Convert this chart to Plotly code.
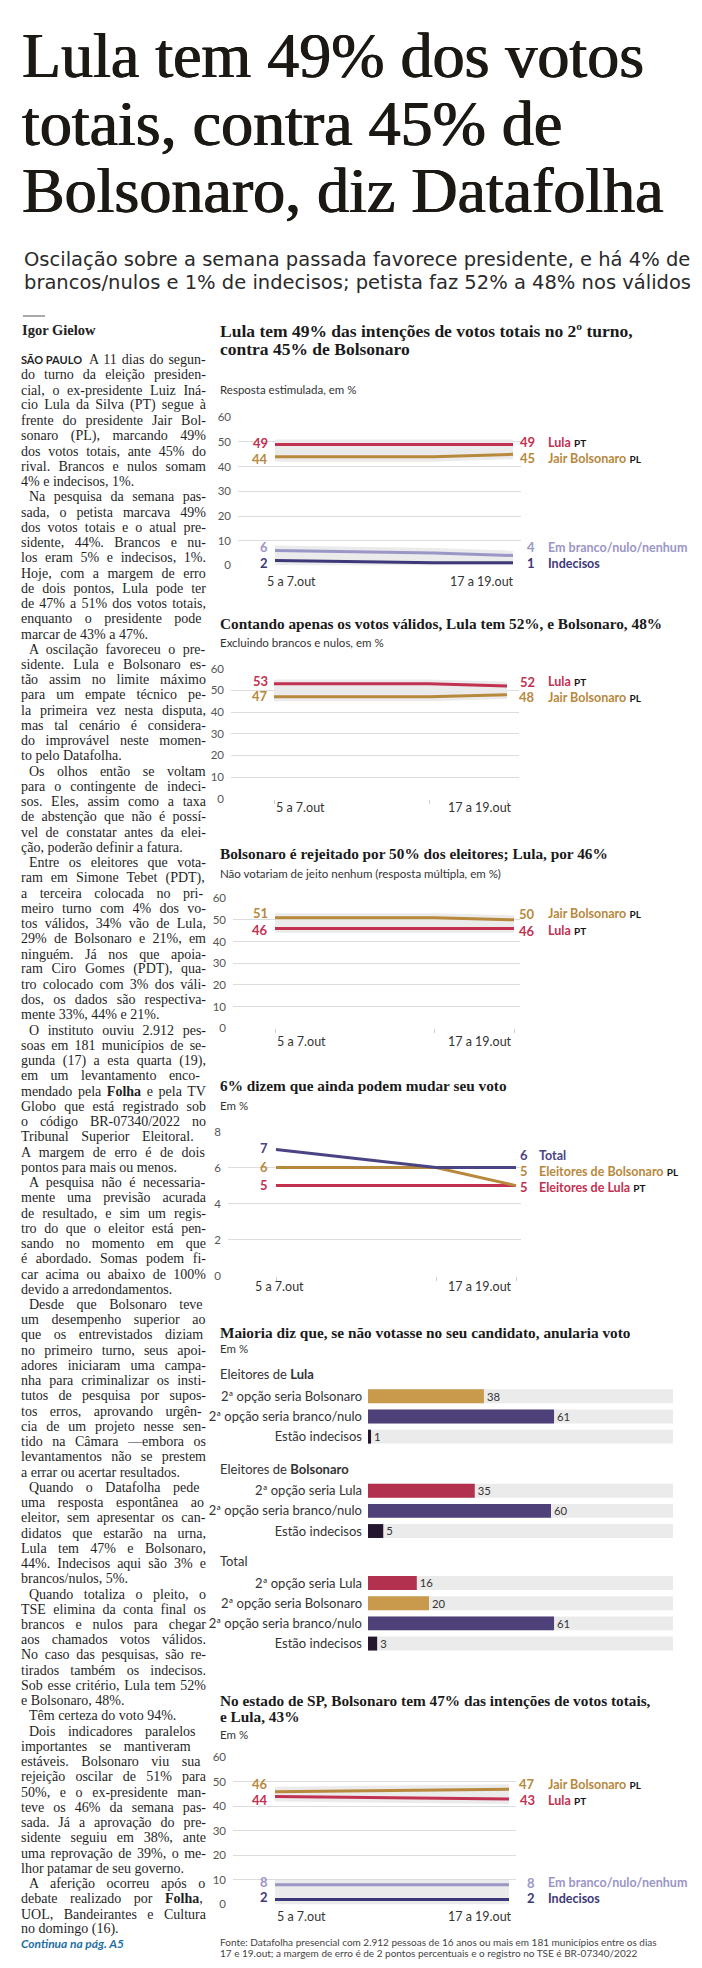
import re
import unicodedata
import plotly.graph_objects as go

W, H = 702, 1968

# ---------------------------------------------------------------- data
poll_labels = ["5 a 7.out", "13 e 14.out", "17 a 19.out"]
poll_day = [6, 14, 18]          # October day used as x position of each poll
margem_erro = 2

# 1 - total votes (Brazil)
c1_lula = [49, 49, 49]
c1_bolso = [44, 44, 45]
c1_branco = [6, 5, 4]
c1_indec = [2, 1, 1]

# 2 - valid votes
c2_lula = [53, 53, 52]
c2_bolso = [47, 47, 48]

# 3 - rejection
c3_bolso = [51, 51, 50]
c3_lula = [46, 46, 46]

# 4 - may still change vote
c4_total = [7, 6, 6]
c4_bolso = [6, 6, 5]
c4_lula = [5, 5, 5]

# 5 - second option
lula_voters_cats = ["2ª opção seria Bolsonaro", "2ª opção seria branco/nulo", "Estão indecisos"]
lula_voters_vals = [38, 61, 1]
bolso_voters_cats = ["2ª opção seria Lula", "2ª opção seria branco/nulo", "Estão indecisos"]
bolso_voters_vals = [35, 60, 5]
total_cats = ["2ª opção seria Lula", "2ª opção seria Bolsonaro", "2ª opção seria branco/nulo", "Estão indecisos"]
total_vals = [16, 20, 61, 3]

# 6 - São Paulo state
sp_days = [6, 18]
sp_bolso = [46, 47]
sp_lula = [44, 43]
sp_branco = [8, 8]
sp_indec = [2, 2]

pct_ticks = [0, 10, 20, 30, 40, 50, 60]
c4_ticks = [0, 2, 4, 6, 8]

# ---------------------------------------------------------------- styles
RED = "#c23150"
GOLD = "#b8883c"
LAV = "#9a96c6"
INDIGO = "#3d3878"
NAVY = "#4a4384"
BAR_GOLD = "#c99a4b"
BAR_PURPLE = "#4e4079"
BAR_DARK = "#25162f"
BAR_RED = "#b1314f"
BAND = "#ebebeb"
INK = "#1c1813"
TXT = "#222222"
SANS = "Lato"
SERIF = "Liberation Serif"

fig = go.Figure()
annotations = []
shapes = []
layout = {}


def px(x):
    return x / W


def py(y):
    return 1 - y / H


def note(x, y, text, size, color=TXT, family=SANS, xanchor="left", shadow=None, **kw):
    font = dict(family=family, size=size, color=color)
    if shadow:
        font["shadow"] = shadow
    d = dict(x=px(x), y=py(y), xref="paper", yref="paper", text=text,
             showarrow=False, xanchor=xanchor, yanchor="middle",
             font=font, borderpad=0)
    d.update(kw)
    annotations.append(d)


# ---------------------------------------------------------------- headline + deck
head_lines = ["Lula tem 49% dos votos", "totais, contra 45% de", "Bolsonaro, diz Datafolha"]
for i, t in enumerate(head_lines):
    note(13, 41 + i * 68, t, 64, INK, SERIF,
         shadow=f"0.6px 0px 0px {INK}, -0.6px 0px 0px {INK}")
deck_lines = ["Oscilação sobre a semana passada favorece presidente, e há 4% de",
              "brancos/nulos e 1% de indecisos; petista faz 52% a 48% nos válidos"]
for i, t in enumerate(deck_lines):
    note(15, 246 + i * 23, t, 19.5, "#2a2a2a", "DejaVu Sans")

# ---------------------------------------------------------------- left text column
shapes.append(dict(type="line", xref="paper", yref="paper", x0=px(15), x1=px(37),
                   y0=py(303), y1=py(303), line=dict(color="#555", width=1)))
note(13, 317, "<b>Igor Gielow</b>", 14.5, "#222", SERIF)

paragraphs = [
    ["A 11 dias do segun-", "do turno da eleição presiden-", "cial, o ex-presidente Luiz Iná-",
     "cio Lula da Silva (PT) segue à", "frente do presidente Jair Bol-", "sonaro (PL), marcando 49%",
     "dos votos totais, ante 45% do", "rival. Brancos e nulos somam", "4% e indecisos, 1%."],
    ["Na pesquisa da semana pas-", "sada, o petista marcava 49%", "dos votos totais e o atual pre-",
     "sidente, 44%. Brancos e nu-", "los eram 5% e indecisos, 1%.", "Hoje, com a margem de erro",
     "de dois pontos, Lula pode ter", "de 47% a 51% dos votos totais,", "enquanto o presidente pode",
     "marcar de 43% a 47%."],
    ["A oscilação favoreceu o pre-", "sidente. Lula e Bolsonaro es-", "tão assim no limite máximo",
     "para um empate técnico pe-", "la primeira vez nesta disputa,", "mas tal cenário é considera-",
     "do improvável neste momen-", "to pelo Datafolha."],
    ["Os olhos então se voltam", "para o contingente de indeci-", "sos. Eles, assim como a taxa",
     "de abstenção que não é possí-", "vel de constatar antes da elei-", "ção, poderão definir a fatura."],
    ["Entre os eleitores que vota-", "ram em Simone Tebet (PDT),", "a terceira colocada no pri-",
     "meiro turno com 4% dos vo-", "tos válidos, 34% vão de Lula,", "29% de Bolsonaro e 21%, em",
     "ninguém. Já nos que apoia-", "ram Ciro Gomes (PDT), qua-", "tro colocado com 3% dos váli-",
     "dos, os dados são respectiva-", "mente 33%, 44% e 21%."],
    ["O instituto ouviu 2.912 pes-", "soas em 181 municípios de se-", "gunda (17) a esta quarta (19),",
     "em um levantamento enco-", "mendado pela <b>Folha</b> e pela TV", "Globo que está registrado sob",
     "o código BR-07340/2022 no", "Tribunal Superior Eleitoral.", "A margem de erro é de dois",
     "pontos para mais ou menos."],
    ["A pesquisa não é necessaria-", "mente uma previsão acurada", "de resultado, e sim um regis-",
     "tro do que o eleitor está pen-", "sando no momento em que", "é abordado. Somas podem fi-",
     "car acima ou abaixo de 100%", "devido a arredondamentos."],
    ["Desde que Bolsonaro teve", "um desempenho superior ao", "que os entrevistados diziam",
     "no primeiro turno, seus apoi-", "adores iniciaram uma campa-", "nha para criminalizar os insti-",
     "tutos de pesquisa por supos-", "tos erros, aprovando urgên-", "cia de um projeto nesse sen-",
     "tido na Câmara —embora os", "levantamentos não se prestem", "a errar ou acertar resultados."],
    ["Quando o Datafolha pede", "uma resposta espontânea ao", "eleitor, sem apresentar os can-",
     "didatos que estarão na urna,", "Lula tem 47% e Bolsonaro,", "44%. Indecisos aqui são 3% e",
     "brancos/nulos, 5%."],
    ["Quando totaliza o pleito, o", "TSE elimina da conta final os", "brancos e nulos para chegar",
     "aos chamados votos válidos.", "No caso das pesquisas, são re-", "tirados também os indecisos.",
     "Sob esse critério, Lula tem 52%", "e Bolsonaro, 48%."],
    ["Têm certeza do voto 94%."],
    ["Dois indicadores paralelos", "importantes se mantiveram", "estáveis. Bolsonaro viu sua",
     "rejeição oscilar de 51% para", "50%, e o ex-presidente man-", "teve os 46% da semana pas-",
     "sada. Já a aprovação do pre-", "sidente seguiu em 38%, ante", "uma reprovação de 39%, o me-",
     "lhor patamar de seu governo."],
    ["A aferição ocorreu após o", "debate realizado por <b>Folha</b>,", "UOL, Bandeirantes e Cultura",
     "no domingo (16)."],
]

# Times-compatible advance widths (1/1000 em) used to justify the column
SERIF_W = {" ": 250, "!": 333, "%": 833, "(": 333, ")": 333, ",": 250, "-": 333, ".": 250,
           "/": 278, ":": 278, ";": 278, "—": 1000, "ª": 276, "º": 310}
SERIF_W.update({d: 500 for d in "0123456789"})
SERIF_W.update(dict(zip("ABCDEFGHIJKLMNOPQRSTUVWXYZ",
                        [722, 667, 667, 722, 611, 556, 722, 722, 333, 389, 722, 611, 889, 722,
                         722, 556, 722, 667, 556, 611, 722, 722, 944, 722, 722, 611])))
SERIF_W.update(dict(zip("abcdefghijklmnopqrstuvwxyz",
                        [444, 500, 444, 500, 444, 333, 500, 500, 278, 278, 500, 278, 778, 500,
                         500, 500, 500, 333, 389, 278, 500, 500, 722, 500, 500, 444])))


def serif_width(s, size):
    total, bold = 0.0, False
    for part in re.split(r"(<[^>]+>)", s):
        if part.startswith("<"):
            if part == "<b>":
                bold = True
            elif part == "</b>":
                bold = False
            continue
        for ch in part:
            base = unicodedata.normalize("NFD", ch)[0]
            w = SERIF_W.get(ch, SERIF_W.get(base, 500))
            total += w * (1.07 if bold else 1.0)
    return total * size / 1000


def justify(line, width, size):
    n = line.count(" ")
    if n == 0:
        return line
    ws = (width - serif_width(line, size)) / n
    ws = max(-1.0, min(ws, 9.0))
    return f"<span style='word-spacing:{ws:.2f}px'>{line}</span>"


BODY_SIZE = 14
COL_L, COL_R, INDENT = 12, 197, 8
line_y0, line_step = 347, 15.34
k = 0
for p_i, para in enumerate(paragraphs):
    for l_i, line in enumerate(para):
        last = l_i == len(para) - 1
        x = COL_L + (INDENT if (l_i == 0 and p_i > 0) else 0)
        if p_i == 0 and l_i == 0:
            lead = 60 + 2 * 0.25 * BODY_SIZE
            body = justify(line, COL_R - COL_L - lead, BODY_SIZE)
            txt = ("<span style='font-family:Lato;font-weight:bold;font-size:11px'>SÃO PAULO</span>"
                   "\u00a0\u00a0" + body)
        else:
            txt = line if last else justify(line, COL_R - x, BODY_SIZE)
        note(x, line_y0 + k * line_step, txt, BODY_SIZE, "#1f1f1f", SERIF)
        k += 1
note(12, line_y0 + k * line_step - 1, "<b><i>Continua na pág. A5</i></b>", 12, "#1f6fa6", SANS)

# ---------------------------------------------------------------- line charts helpers
charts = {}


def line_chart(i, grid_x0, grid_x1, line_x0, line_x1, ytop, ybot, yticks):
    s = (line_x1 - line_x0) / (poll_day[-1] - poll_day[0])
    xr = [poll_day[0] - (line_x0 - grid_x0) / s, poll_day[-1] + (grid_x1 - line_x1) / s]
    charts[i] = dict(line_x0=line_x0, line_x1=line_x1, ytop=ytop, ybot=ybot,
                     y0=yticks[0], y1=yticks[-1])
    layout[f"xaxis{i}"] = dict(domain=[px(grid_x0), px(grid_x1)], range=xr, anchor=f"y{i}",
                               showgrid=False, zeroline=False, showline=False,
                               showticklabels=False, tickvals=poll_day,
                               ticks="outside" if i in (2, 3, 4) else "", ticklen=4,
                               tickcolor="#cfcfcf", fixedrange=True)
    layout[f"yaxis{i}"] = dict(domain=[py(ybot), py(ytop)], range=[yticks[0], yticks[-1]],
                               anchor=f"x{i}", tickvals=yticks, showgrid=True,
                               gridcolor="#dcdcdc", gridwidth=1, zeroline=False,
                               showline=False, ticks="", ticklabelstandoff=6,
                               tickfont=dict(family=SANS, size=11.5, color="#555"),
                               fixedrange=True)


def band(i, xs, groups):
    upper = [max(v) + margem_erro for v in zip(*groups)]
    lower = [min(v) - margem_erro for v in zip(*groups)]
    fig.add_trace(go.Scatter(x=list(xs) + list(xs)[::-1], y=upper + lower[::-1], fill="toself",
                             fillcolor=BAND, line=dict(width=0), mode="lines",
                             hoverinfo="skip", showlegend=False, xaxis=f"x{i}", yaxis=f"y{i}"))


def series(i, xs, ys, color):
    fig.add_trace(go.Scatter(x=xs, y=ys, mode="lines", line=dict(color=color, width=3),
                             hoverinfo="skip", showlegend=False, xaxis=f"x{i}", yaxis=f"y{i}"))


def end_labels(i, xs, ys, color, name, party, left_px, right_px, num_right=528, name_left=539):
    c = charts[i]

    def shift(v, target):
        vpx = c["ybot"] - (v - c["y0"]) / (c["y1"] - c["y0"]) * (c["ybot"] - c["ytop"])
        return vpx - target

    common = dict(xref=f"x{i}", yref=f"y{i}", showarrow=False, yanchor="middle", borderpad=0)
    annotations.append(dict(x=xs[0], y=ys[0], text=f"<b>{ys[0]}</b>", xanchor="right",
                            xshift=-(c["line_x0"] - 261), yshift=shift(ys[0], left_px),
                            font=dict(family=SANS, size=13, color=color), **common))
    annotations.append(dict(x=xs[-1], y=ys[-1], text=f"<b>{ys[-1]}</b>", xanchor="right",
                            xshift=num_right - c["line_x1"], yshift=shift(ys[-1], right_px),
                            font=dict(family=SANS, size=13, color=color), **common))
    lab = f"<b>{name}</b>"
    if party:
        lab += f" <b><span style='color:#151515;font-size:10px'>{party}</span></b>"
    annotations.append(dict(x=xs[-1], y=ys[-1], text=lab, xanchor="left",
                            xshift=name_left - c["line_x1"], yshift=shift(ys[-1], right_px),
                            font=dict(family=SANS, size=12.5, color=color), **common))


def x_labels(y, left_x, left_anchor, right_x):
    note(left_x, y, poll_labels[0], 12.5, "#333", SANS, xanchor=left_anchor)
    note(right_x, y, poll_labels[-1], 12.5, "#333", SANS, xanchor="right")


def title(y, lines, sub=None, sub_y=None, size=15.3, step=17):
    for j, t in enumerate(lines):
        note(211, y + j * step, f"<b>{t}</b>", size, "#1a1a1a", SERIF)
    if sub:
        note(211, sub_y, sub, 11.5, "#333", SANS)


# ---------------------------------------------------------------- chart 1
title(318, ["Lula tem 49% das intenções de votos totais no 2º turno,",
            "contra 45% de Bolsonaro"], "Resposta estimulada, em %", 377, size=17.5, step=18.5)
line_chart(1, 230, 513, 267, 505, 405, 554, pct_ticks)
band(1, poll_day, [c1_lula, c1_bolso])
band(1, poll_day, [c1_branco, c1_indec])
series(1, poll_day, c1_branco, LAV)
series(1, poll_day, c1_indec, INDIGO)
series(1, poll_day, c1_bolso, GOLD)
series(1, poll_day, c1_lula, RED)
end_labels(1, poll_day, c1_lula, RED, "Lula", "PT", 431, 430)
end_labels(1, poll_day, c1_bolso, GOLD, "Jair Bolsonaro", "PL", 447, 446)
end_labels(1, poll_day, c1_branco, LAV, "Em branco/nulo/nenhum", "", 536, 536)
end_labels(1, poll_day, c1_indec, INDIGO, "Indecisos", "", 552, 552)
x_labels(570, 258, "left", 507)

# ---------------------------------------------------------------- chart 2
title(613, ["Contando apenas os votos válidos, Lula tem 52%, e Bolsonaro, 48%"],
      "Excluindo brancos e nulos, em %", 632)
line_chart(2, 223, 511, 266, 499, 658, 789, pct_ticks)
band(2, poll_day, [c2_lula, c2_bolso])
series(2, poll_day, c2_bolso, GOLD)
series(2, poll_day, c2_lula, RED)
end_labels(2, poll_day, c2_lula, RED, "Lula", "PT", 670, 671)
end_labels(2, poll_day, c2_bolso, GOLD, "Jair Bolsonaro", "PL", 686, 687)
x_labels(798, 267, "left", 505)

# ---------------------------------------------------------------- chart 3
title(844, ["Bolsonaro é rejeitado por 50% dos eleitores; Lula, por 46%"],
      "Não votariam de jeito nenhum (resposta múltipla, em %)", 864)
line_chart(3, 225, 512, 267, 506, 889, 1020, pct_ticks)
band(3, poll_day, [c3_bolso, c3_lula])
series(3, poll_day, c3_lula, RED)
series(3, poll_day, c3_bolso, GOLD)
end_labels(3, poll_day, c3_bolso, GOLD, "Jair Bolsonaro", "PL", 904, 905)
end_labels(3, poll_day, c3_lula, RED, "Lula", "PT", 921, 922)
x_labels(1033, 268, "left", 505)

# ---------------------------------------------------------------- chart 4
title(1078, ["6% dizem que ainda podem mudar seu voto"], "Em %", 1098)
line_chart(4, 220, 513, 268, 508, 1124, 1269, c4_ticks)
series(4, poll_day, c4_lula, RED)
series(4, poll_day, c4_bolso, GOLD)
series(4, poll_day, c4_total, NAVY)
end_labels(4, poll_day, c4_total, NAVY, "Total", "", 1141, 1148, 521, 530)
end_labels(4, poll_day, c4_bolso, GOLD, "Eleitores de Bolsonaro", "PL", 1160, 1164, 521, 530)
end_labels(4, poll_day, c4_lula, RED, "Eleitores de Lula", "PT", 1178, 1180, 521, 530)
x_labels(1280, 271, "center", 505)

# ---------------------------------------------------------------- chart 5 (bars)
title(1326, ["Maioria diz que, se não votasse no seu candidato, anularia voto"], "Em %", 1342)
groups = [("Eleitores de ", "Lula", lula_voters_cats, lula_voters_vals, [BAR_GOLD, BAR_PURPLE, BAR_DARK]),
          ("Eleitores de ", "Bolsonaro", bolso_voters_cats, bolso_voters_vals, [BAR_RED, BAR_PURPLE, BAR_DARK]),
          ("Total", "", total_cats, total_vals, [BAR_RED, BAR_GOLD, BAR_PURPLE, BAR_DARK])]
group_top = [1390.5, 1485.5, 1578.5]
pitch = 20.3
row_y, row_txt, row_val, row_col = [], [], [], []
for (pre, bold, cats, vals, cols), top in zip(groups, group_top):
    note(211, top - 22, pre + (f"<b>{bold}</b>" if bold else ""), 13, "#333", SANS)
    for j, (c, v, col) in enumerate(zip(cats, vals, cols)):
        row_y.append(top + j * pitch)
        row_txt.append(c)
        row_val.append(v)
        row_col.append(col)

layout["xaxis5"] = dict(domain=[px(360), px(665)], range=[0, 100], anchor="y5", visible=False,
                        fixedrange=True)
layout["yaxis5"] = dict(domain=[py(1662), py(1352)], range=[1662, 1352], anchor="x5",
                        tickvals=row_y, ticktext=row_txt, showgrid=False, zeroline=False,
                        showline=False, ticks="", ticklabelstandoff=5,
                        tickfont=dict(family=SANS, size=13, color="#333"), fixedrange=True)
fig.add_trace(go.Bar(x=[100] * len(row_y), y=row_y, orientation="h", width=14,
                     marker=dict(color=BAND, line=dict(width=0)), hoverinfo="skip",
                     showlegend=False, xaxis="x5", yaxis="y5"))
fig.add_trace(go.Bar(x=row_val, y=row_y, orientation="h", width=14,
                     marker=dict(color=row_col, line=dict(width=0)),
                     text=[str(v) for v in row_val], textposition="outside",
                     textfont=dict(family=SANS, size=13, color="#333"), cliponaxis=False,
                     hoverinfo="skip", showlegend=False, xaxis="x5", yaxis="y5"))

# ---------------------------------------------------------------- chart 6 (SP)
title(1697, ["No estado de SP, Bolsonaro tem 47% das intenções de votos totais,",
             "e Lula, 43%"], "Em %", 1731, step=16)
line_chart(6, 225, 508, 267, 501, 1754, 1902, pct_ticks)
band(6, sp_days, [sp_bolso, sp_lula])
band(6, sp_days, [sp_branco, sp_indec])
series(6, sp_days, sp_branco, LAV)
series(6, sp_days, sp_indec, INDIGO)
series(6, sp_days, sp_lula, RED)
series(6, sp_days, sp_bolso, GOLD)
end_labels(6, sp_days, sp_bolso, GOLD, "Jair Bolsonaro", "PL", 1781, 1781)
end_labels(6, sp_days, sp_lula, RED, "Lula", "PT", 1797, 1797)
end_labels(6, sp_days, sp_branco, LAV, "Em branco/nulo/nenhum", "", 1879, 1880)
end_labels(6, sp_days, sp_indec, INDIGO, "Indecisos", "", 1895, 1896)
x_labels(1914, 268, "left", 505)

note(211, 1940, "Fonte: Datafolha presencial com 2.912 pessoas de 16 anos ou mais em 181 municípios entre os dias",
     10, "#444", SANS)
note(211, 1951, "17 e 19.out; a margem de erro é de 2 pontos percentuais e o registro no TSE é BR-07340/2022",
     10, "#444", SANS)

fig.update_layout(width=W, height=H, margin=dict(l=0, r=0, t=0, b=0),
                  paper_bgcolor="white", plot_bgcolor="rgba(0,0,0,0)",
                  barmode="overlay", showlegend=False, annotations=annotations,
                  shapes=shapes, **layout)
fig.write_html("out.html", config=dict(displayModeBar=False, staticPlot=True))
